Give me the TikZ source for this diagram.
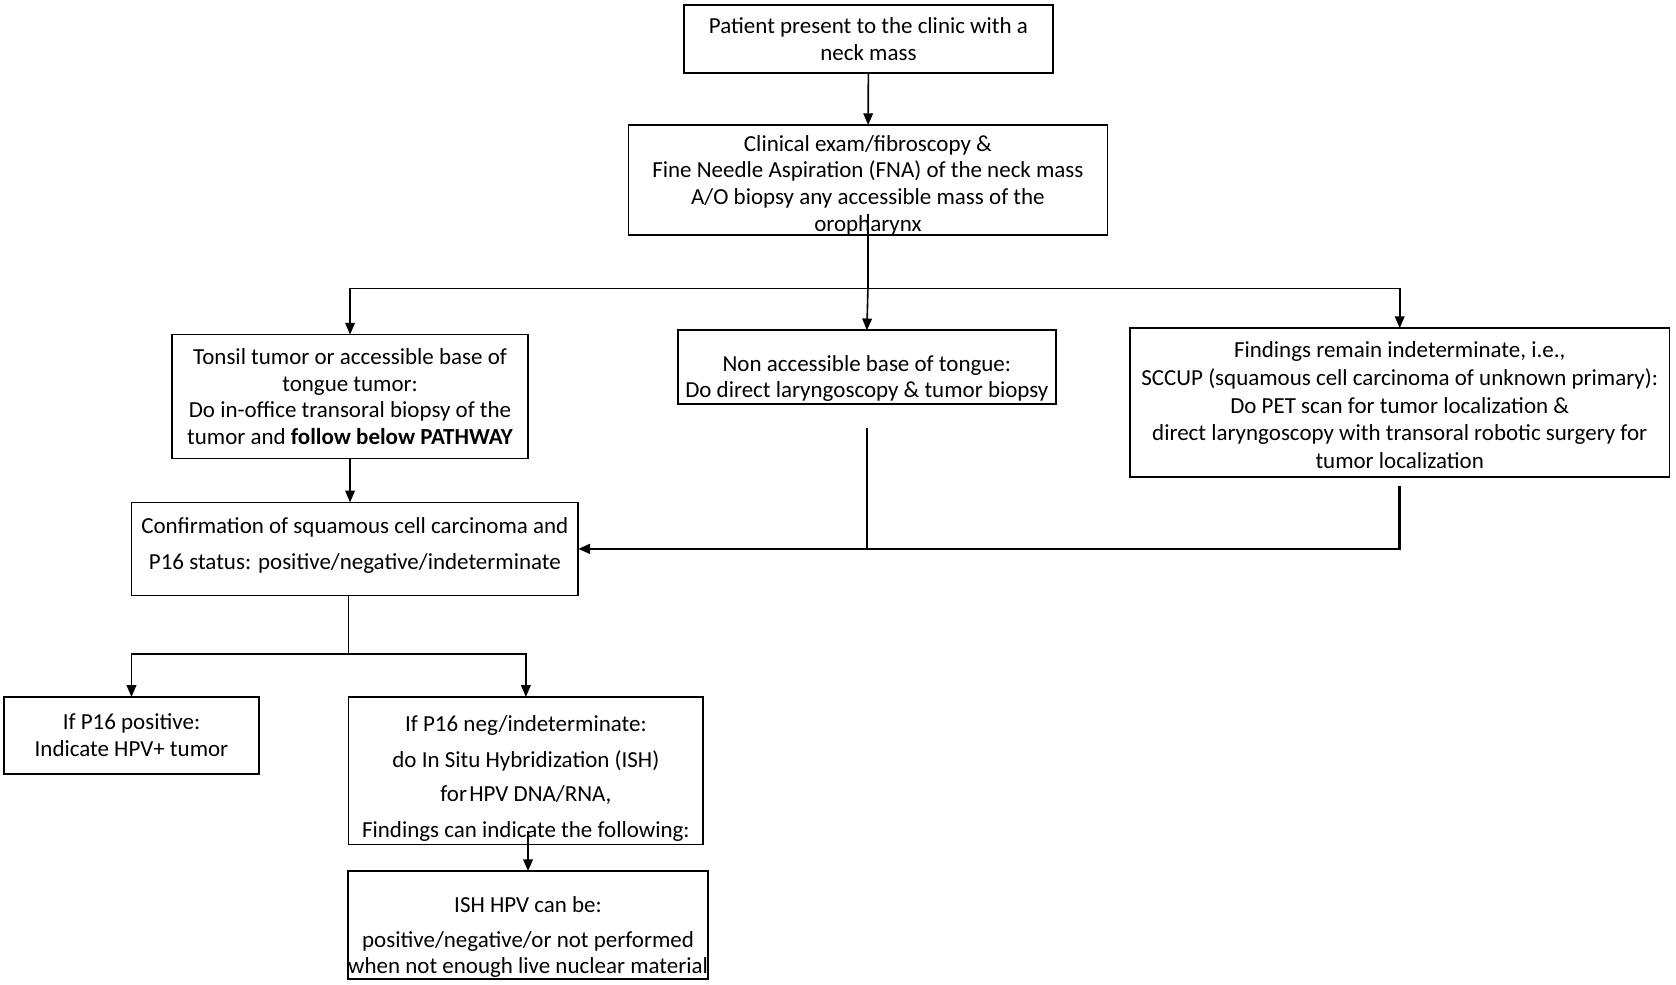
\documentclass[tikz,border=0pt]{standalone}
\usepackage{fontspec}
\setmainfont{Carlito}
\usetikzlibrary{arrows.meta}

\begin{document}
\begin{tikzpicture}[x=1pt, y=-1pt,
  every node/.style={draw, line width=1.6pt, align=center, inner sep=0pt, outer sep=0pt, font=\fontsize{21.5}{25}\selectfont},
  conn/.style={line width=1.5pt},
  arr/.style={conn, -{Triangle[length=11pt, width=9pt]}}]
\useasboundingbox (0,0) rectangle (1568,920.6);

\node[minimum width=345pt, minimum height=63pt] (patient) at (812.5,36.5) {Patient present to the clinic with a\\neck mass};
\node[minimum width=448pt, minimum height=103pt] (clinical) at (812,168.5) {\rule{0pt}{24pt}Clinical exam/fibroscopy \&\\Fine Needle Aspiration (FNA) of the neck mass\\A/O biopsy any accessible mass of the\\oropharynx};

\node[minimum width=333pt, minimum height=116pt] (tonsil) at (327.5,371) {Tonsil tumor or accessible base of\\tongue tumor:\\Do in-office transoral biopsy of the\\tumor and \textbf{follow below PATHWAY}};
\node[minimum width=354pt, minimum height=69pt] (nonacc) at (811,343.5) {\rule{0pt}{36pt}Non accessible base of tongue:\\Do direct laryngoscopy \& tumor biopsy};
\node[minimum width=505pt, minimum height=139pt, font=\fontsize{21.5}{26}\selectfont] (sccup) at (1309.5,376.5) {\rule{0pt}{20pt}Findings remain indeterminate, i.e.,\\SCCUP (squamous cell carcinoma of unknown primary):\\Do PET scan for tumor localization \&\\direct laryngoscopy with transoral robotic surgery for\\tumor localization};

\node[minimum width=418pt, minimum height=87pt] (confirm) at (332,513.5) {Confirmation of squamous cell carcinoma and\\[8pt]P16 status: positive/negative/indeterminate\rule[-10pt]{0pt}{0pt}};

\node[minimum width=238pt, minimum height=72pt] (ppos) at (123,688) {If P16 positive:\\Indicate HPV+ tumor};
\node[minimum width=332pt, minimum height=138pt] (pneg) at (492,721) {\rule{0pt}{30pt}If P16 neg/indeterminate:\\[8pt]do In Situ Hybridization (ISH)\\[7pt]for\hspace{0.1em}HPV DNA/RNA,\\[9pt]Findings can indicate the following:};
\node[minimum width=336pt, minimum height=101pt] (ish) at (494,865.5) {\rule{0pt}{38pt}ISH HPV can be:\\[7pt]positive/negative/or not performed\\when not enough live nuclear material};

\coordinate (split) at (812,270);
\coordinate (split2) at (326,612);

\draw[arr] (patient) -- (clinical);
\draw[conn] ([yshift=20pt]clinical.south) -- (split);
\draw[arr] (split) -- (nonacc.north);
\draw[arr] (split) -| (tonsil.north);
\draw[arr] (split) -| (sccup.north);
\draw[arr] (tonsil) -- (tonsil |- confirm.north);
\draw[conn] ([yshift=-22pt]nonacc.south) -- (nonacc.south |- confirm.east);
\draw[arr, line width=2.4pt] ([yshift=-9pt]sccup.south) |- (confirm.east);
\draw[conn] (split2 |- confirm.south) -- (split2);
\draw[arr] (split2) -| (ppos.north);
\draw[arr] (split2) -| (pneg.north);
\draw[arr] ([yshift=13pt]ish.north |- pneg.south) -- (ish.north);
\end{tikzpicture}
\end{document}
